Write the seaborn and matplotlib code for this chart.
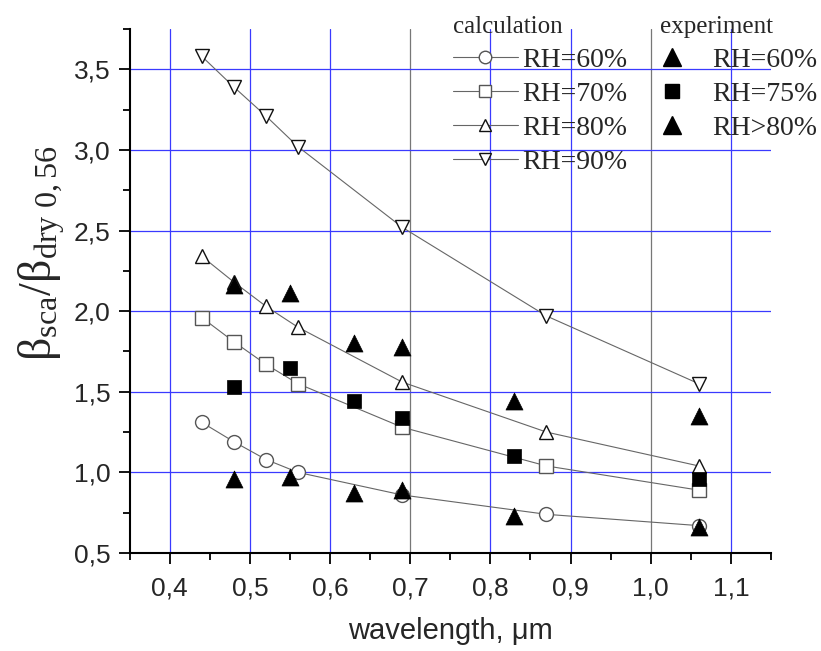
import numpy as np
import pandas as pd
import matplotlib
matplotlib.use("Agg")
import matplotlib.pyplot as plt
import seaborn as sns
from matplotlib.lines import Line2D

# calculated curves
calc_x = [0.44, 0.48, 0.52, 0.56, 0.69, 0.87, 1.06]
calc_rh60 = [1.31, 1.19, 1.08, 1.00, 0.86, 0.74, 0.67]
calc_rh70 = [1.96, 1.81, 1.67, 1.55, 1.28, 1.04, 0.89]
calc_rh80 = [2.34, 2.18, 2.03, 1.90, 1.56, 1.25, 1.04]
calc_rh90 = [3.58, 3.39, 3.21, 3.02, 2.52, 1.97, 1.55]

# experiment points
exp_x = [0.48, 0.55, 0.63, 0.69, 0.83, 1.06]
exp_rh60 = [0.96, 0.97, 0.87, 0.89, 0.73, 0.66]
exp_rh75 = [1.53, 1.65, 1.44, 1.34, 1.10, 0.96]
exp_rh80 = [2.16, 2.11, 1.80, 1.78, 1.44, 1.35]

calc_labels = ["RH=60%", "RH=70%", "RH=80%", "RH=90%"]
exp_labels = ["RH=60%", "RH=75%", "RH>80%"]

sns.set_style("white")
plt.rcParams["font.family"] = ["Liberation Sans", "DejaVu Sans"]
plt.rcParams["mathtext.fontset"] = "custom"
plt.rcParams["mathtext.rm"] = "Liberation Serif"
plt.rcParams["mathtext.it"] = "Liberation Serif"

fig = plt.figure(figsize=(8.21, 6.51), dpi=100)
ax = fig.add_axes([0.158, 0.1505, 0.781, 0.805])

# grid first so it sits under the data
for gx in [0.4, 0.5, 0.6, 0.8, 0.9, 1.1]:
    ax.axvline(gx, color="#3a3aff", lw=0.9, zorder=0)
for gx in [0.7, 1.0]:
    ax.axvline(gx, color="#777777", lw=0.9, zorder=0)
for gy in [1.0, 1.5, 2.0, 2.5, 3.0, 3.5]:
    ax.axhline(gy, color="#3a3aff", lw=0.9, zorder=0)

calc_series = [calc_rh60, calc_rh70, calc_rh80, calc_rh90]
calc_markers = ["o", "s", "^", "v"]
calc_edges = ["#555555", "#555555", "#111111", "#111111"]
calc_handles = []
for vals, m, ec, lab in zip(calc_series, calc_markers, calc_edges, calc_labels):
    df = pd.DataFrame({"x": calc_x, "y": vals})
    sns.lineplot(data=df, x="x", y="y", ax=ax, color="#666666", lw=0.8,
                 marker=m, markersize=10, markerfacecolor="white",
                 markeredgecolor=ec, markeredgewidth=1.0, zorder=3)
    calc_handles.append(Line2D([], [], color="#666666", lw=0.8, marker=m,
                               markersize=9, markerfacecolor="white",
                               markeredgecolor=ec, markeredgewidth=1.0))

exp_series = [exp_rh60, exp_rh75, exp_rh80]
exp_markers = ["^", "s", "^"]
exp_sizes = [150, 95, 150]
exp_handles = []
for vals, m, s, lab in zip(exp_series, exp_markers, exp_sizes, exp_labels):
    df = pd.DataFrame({"x": exp_x, "y": vals})
    sns.scatterplot(data=df, x="x", y="y", ax=ax, marker=m, s=s,
                    color="black", edgecolor="black", linewidth=0.5, zorder=4)
    exp_handles.append(Line2D([], [], ls="none", marker=m,
                              markersize=np.sqrt(s), color="black"))

ax.set_xlim(0.35, 1.15)
ax.set_ylim(0.5, 3.75)
ax.set_xticks([0.4, 0.5, 0.6, 0.7, 0.8, 0.9, 1.0, 1.1])
ax.set_xticklabels(["0,4", "0,5", "0,6", "0,7", "0,8", "0,9", "1,0", "1,1"])
ax.set_xticks(np.arange(0.35, 1.151, 0.05), minor=True)
ax.set_yticks([0.5, 1.0, 1.5, 2.0, 2.5, 3.0, 3.5])
ax.set_yticklabels(["0,5", "1,0", "1,5", "2,0", "2,5", "3,0", "3,5"])
ax.set_yticks(np.arange(0.5, 3.76, 0.25), minor=True)
ax.tick_params(which="major", direction="out", length=8, width=1.3,
               labelsize=19, color="black", bottom=True, left=True, pad=6)
ax.tick_params(axis="x", which="major", pad=9)
ax.tick_params(which="minor", direction="out", length=5, width=1.3,
               color="black", bottom=True, left=True)
for side in ["top", "right"]:
    ax.spines[side].set_visible(False)
for side in ["left", "bottom"]:
    ax.spines[side].set_color("black")
    ax.spines[side].set_linewidth(1.5)

ax.set_xlabel("wavelength, μm", fontsize=21, labelpad=12)
ax.set_ylabel(r"$\mathrm{\beta_{sca}/\beta_{dry\ 0,56}}$", fontsize=33)
ax.yaxis.set_label_coords(-0.098, 0.573)

title_font = {"family": "Liberation Serif", "size": 18}
entry_font = {"family": "Liberation Serif", "size": 20}
leg1 = fig.legend(calc_handles, calc_labels, loc="upper left",
                  bbox_to_anchor=(0.548, 0.979), frameon=False, prop=entry_font,
                  title="calculation", title_fontproperties=title_font,
                  alignment="left", handlelength=2.35, handletextpad=0.15,
                  labelspacing=0.31, borderaxespad=0, borderpad=0.1)
leg2 = fig.legend(exp_handles, exp_labels, loc="upper left",
                  bbox_to_anchor=(0.801, 0.979), frameon=False, prop=entry_font,
                  title="experiment", title_fontproperties=title_font,
                  alignment="left", handlelength=0.8, handletextpad=1.05,
                  labelspacing=0.31, borderaxespad=0, borderpad=0.1)

fig.savefig("out.png", dpi=100)
